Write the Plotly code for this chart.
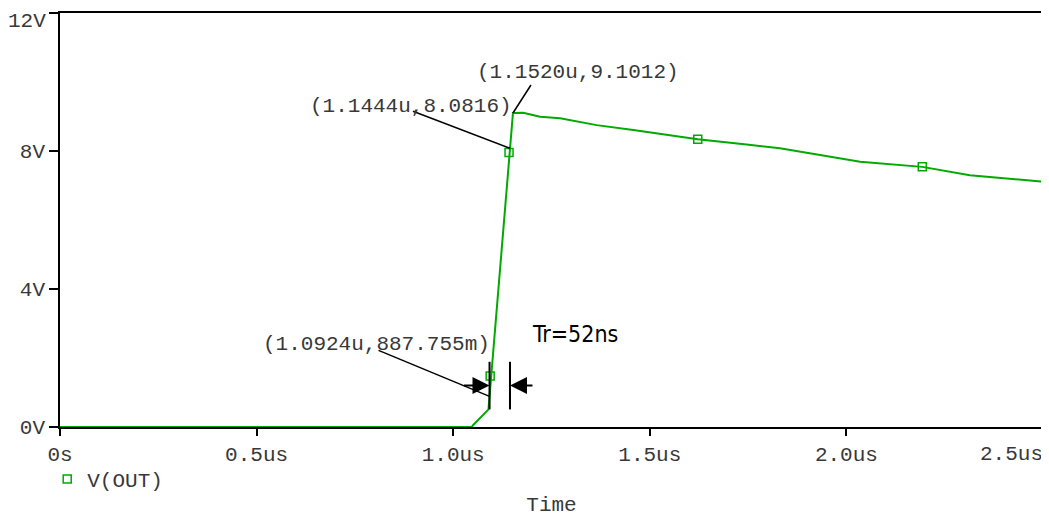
import plotly.graph_objects as go

# ---- data ----
time_us = [0.0, 0.5, 1.0, 1.047, 1.051, 1.0897, 1.0924, 1.1444, 1.152, 1.178, 1.221, 1.272,
           1.365, 1.458, 1.56, 1.622, 1.746, 1.831, 2.035, 2.193, 2.314, 2.5]
v_out = [0.0, 0.0, 0.0, 0.0, 0.06, 0.51, 0.887755, 8.0816, 9.1012, 9.11, 8.99, 8.95,
         8.75, 8.61, 8.43, 8.34, 8.19, 8.08, 7.69, 7.54, 7.30, 7.11]

marker_t = [1.094, 1.142, 1.622, 2.193]
marker_v = [1.48, 7.96, 8.34, 7.54]

cursor_t = [1.1520, 1.1444, 1.0924]
cursor_v = [9.1012, 8.0816, 0.887755]
cursor_text = ["(1.1520u,9.1012)", "(1.1444u,8.0816)", "(1.0924u,887.755m)"]

x_tickvals = [0, 0.5, 1.0, 1.5, 2.0, 2.5]
x_ticktext = ["0s", "0.5us", "1.0us", "1.5us", "2.0us", "2.5us"]
y_tickvals = [0, 4, 8, 12]
y_ticktext = ["0V", "4V", "8V", "12V"]

rise_label = "Tr=52ns"
bar_v = [0.51, 1.89]
arrow_v = 1.20

GREEN = "rgb(0,170,0)"
GRAY = "#383838"
MONO = "Liberation Mono, DejaVu Sans Mono, monospace"
FS = 21

fig = go.Figure()
fig.add_trace(go.Scatter(x=time_us, y=v_out, mode="lines",
                         line=dict(color=GREEN, width=2), showlegend=False,
                         hoverinfo="skip"))
fig.add_trace(go.Scatter(x=marker_t, y=marker_v, mode="markers", name="V(OUT)",
                         marker=dict(symbol="square-open", size=8, color=GREEN,
                                     line=dict(width=1.5, color=GREEN)),
                         showlegend=True))

# cursor leader lines (anchored at cursor points, offsets in pixels)
leader_offsets = [(18, 28), (-97, 37), (-111, 46)]
for t, v, (dx, dy) in zip(cursor_t, cursor_v, leader_offsets):
    fig.add_shape(type="line", xref="x", yref="y", xsizemode="pixel", ysizemode="pixel",
                  xanchor=t, yanchor=v, x0=0, y0=0, x1=dx, y1=dy,
                  line=dict(color="black", width=1.5))

# cursor labels
label_offsets = [(65, 41), (-99, 42), (-113, 52)]
for t, v, txt, (dx, dy) in zip(cursor_t, cursor_v, cursor_text, label_offsets):
    fig.add_annotation(x=t, y=v, xref="x", yref="y", text=txt, showarrow=True,
                       arrowcolor="rgba(0,0,0,0)", ax=dx, ay=-dy,
                       font=dict(family=MONO, size=FS, color=GRAY))

# rise-time bars
for t in [cursor_t[2], cursor_t[1]]:
    fig.add_shape(type="line", xref="x", yref="y", x0=t, x1=t, y0=bar_v[0], y1=bar_v[1],
                  line=dict(color="black", width=2))

# arrows
fig.add_annotation(x=cursor_t[2], y=arrow_v, xref="x", yref="y", text="", showarrow=True,
                   ax=-27, ay=0, arrowhead=2, arrowsize=1.7, arrowwidth=2, arrowcolor="black")
fig.add_annotation(x=cursor_t[1], y=arrow_v, xref="x", yref="y", text="", showarrow=True,
                   ax=24, ay=0, arrowhead=2, arrowsize=1.7, arrowwidth=2, arrowcolor="black")

fig.add_annotation(x=cursor_t[1], y=arrow_v, xref="x", yref="y", text=rise_label,
                   showarrow=False, xanchor="left", yanchor="middle", yshift=52, xshift=20,
                   font=dict(family="DejaVu Sans Condensed, Liberation Sans Narrow, Liberation Sans",
                             size=23, color="black"))

axis_common = dict(showline=True, linecolor="black", linewidth=1.5, mirror=True,
                   ticks="outside", tickcolor="black", tickwidth=1.5,
                   showgrid=False, zeroline=False, automargin=False,
                   ticklabeloverflow="allow",
                   tickfont=dict(family=MONO, size=FS, color=GRAY))

# last x tick label is drawn right-aligned so it stays inside the page
fig.update_xaxes(range=[0, 2.5], tickvals=x_tickvals,
                 ticktext=x_ticktext[:-1] + [""], ticklen=7,
                 title=dict(text="Time", font=dict(family=MONO, size=FS, color=GRAY),
                            standoff=41), **axis_common)
fig.add_annotation(x=x_tickvals[-1], y=0, xref="x", yref="paper", text=x_ticktext[-1],
                   showarrow=False, xanchor="right", yanchor="middle", yshift=-27, xshift=2,
                   font=dict(family=MONO, size=FS, color=GRAY))

# top y tick label is drawn so it stays inside the page
fig.update_yaxes(range=[0, 12], tickvals=y_tickvals,
                 ticktext=y_ticktext[:-1] + [""], ticklen=9, **axis_common)
fig.add_annotation(x=0, y=1, xref="paper", yref="paper", text=y_ticktext[-1],
                   showarrow=False, xanchor="right", yanchor="top", yshift=5, xshift=-12,
                   font=dict(family=MONO, size=FS, color=GRAY))

fig.update_layout(
    width=1041, height=509,
    margin=dict(l=52, r=6, t=5, b=90),
    plot_bgcolor="white", paper_bgcolor="white",
    font=dict(family=MONO, size=FS, color=GRAY),
    legend=dict(orientation="h", x=-0.013, xanchor="left", y=-0.077, yanchor="top",
                bgcolor="rgba(0,0,0,0)", font=dict(family=MONO, size=FS, color=GRAY),
                itemwidth=30),
)

fig.write_html("out.html")
